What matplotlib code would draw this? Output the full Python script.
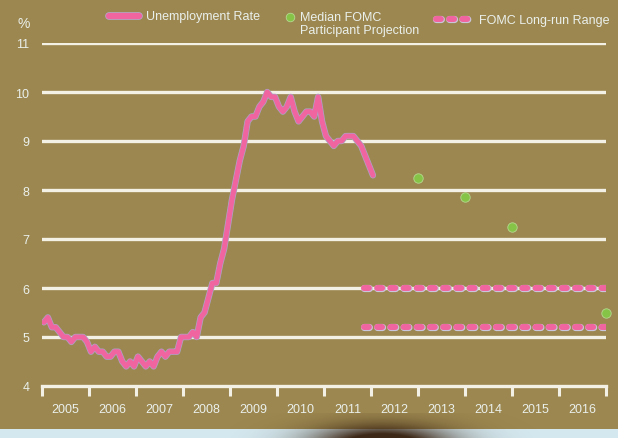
import matplotlib
matplotlib.use("Agg")
import matplotlib.pyplot as plt
import matplotlib.patheffects as pe
from matplotlib.patches import Rectangle
import numpy as np

plt.rcParams['font.family'] = ['Liberation Sans', 'DejaVu Sans']
plt.rcParams['lines.scale_dashes'] = False

# monthly unemployment rate, Jan 2005 .. Jan 2012
rate_2005 = [5.3, 5.4, 5.2, 5.2, 5.1, 5.0, 5.0, 4.9, 5.0, 5.0, 5.0, 4.9]
rate_2006 = [4.7, 4.8, 4.7, 4.7, 4.6, 4.6, 4.7, 4.7, 4.5, 4.4, 4.5, 4.4]
rate_2007 = [4.6, 4.5, 4.4, 4.5, 4.4, 4.6, 4.7, 4.6, 4.7, 4.7, 4.7, 5.0]
rate_2008 = [5.0, 5.0, 5.1, 5.0, 5.4, 5.5, 5.8, 6.1, 6.1, 6.5, 6.8, 7.3]
rate_2009 = [7.8, 8.2, 8.6, 8.9, 9.4, 9.5, 9.5, 9.7, 9.8, 10.0, 9.9, 9.9]
rate_2010 = [9.7, 9.6, 9.7, 9.9, 9.6, 9.4, 9.5, 9.6, 9.6, 9.5, 9.9, 9.4]
rate_2011 = [9.1, 9.0, 8.9, 9.0, 9.0, 9.1, 9.1, 9.1, 9.0, 8.9, 8.7, 8.5]
rate_2012 = [8.3]

# median FOMC projections (Q4 of year) and longer run
proj_x = [2013.0, 2014.0, 2015.0, 2017.0]
proj_y = [8.25, 7.85, 7.25, 5.5]

# longer-run central tendency
range_x = [2011.85, 2017.0]
range_low = 5.2
range_high = 6.0

years = list(range(2005, 2017))
y_ticks = [4, 5, 6, 7, 8, 9, 10, 11]

rate = rate_2005 + rate_2006 + rate_2007 + rate_2008 + rate_2009 + rate_2010 + rate_2011 + rate_2012
months = 2005 + np.arange(len(rate)) / 12 + 1 / 24

BG = '#9c8750'
PINK = '#f064a0'
GREEN = '#86c447'
WHITE = '#f3f1e6'
TXT = '#eaf0ec'
DASH = (3.5, 6.0)

fig = plt.figure(figsize=(6.18, 4.39), dpi=100, facecolor=BG)
ax = fig.add_axes([42 / 618, (439 - 387) / 439, (606 - 42) / 618, (387 - 44) / 439])
ax.set_facecolor(BG)

ax.set_xlim(2005, 2017)
ax.set_ylim(4, 11)

for v in y_ticks[1:]:
    ax.axhline(v, color=WHITE, lw=2.4, zorder=1)

# long-run range
for v in (range_low, range_high):
    ax.plot(range_x, [v, v], color='#c9c6dc', lw=5.2, dashes=DASH,
            dash_capstyle='round', zorder=3)
    ax.plot(range_x, [v, v], color=PINK, lw=4.3, dashes=DASH,
            dash_capstyle='round', zorder=4)

ax.plot(months, rate, color=PINK, lw=3.6, solid_joinstyle='round', solid_capstyle='round',
        zorder=5,
        path_effects=[pe.Stroke(linewidth=4.6, foreground='#a9a6c8', joinstyle='round'),
                      pe.Normal()])

ax.scatter(proj_x, proj_y, s=46, color=GREEN, edgecolors='#b5d890', linewidths=0.6,
           zorder=6, clip_on=False)

for s in ('top', 'right', 'left'):
    ax.spines[s].set_visible(False)
ax.spines['bottom'].set_color(WHITE)
ax.spines['bottom'].set_linewidth(2.4)

ax.set_xticks(range(2005, 2018))
ax.set_xticklabels([])
ax.tick_params(axis='x', which='major', length=7, width=2.2, color=WHITE, direction='out')
ax.set_xticks([y + 0.5 for y in years], minor=True)
ax.set_xticklabels([str(y) for y in years], minor=True)
ax.tick_params(axis='x', which='minor', length=0, pad=12, labelsize=9, labelcolor=TXT)

ax.set_yticks(y_ticks)
ax.set_yticklabels([str(v) for v in y_ticks])
ax.tick_params(axis='y', length=0, pad=9, labelsize=9, labelcolor=TXT)

# overlay in pixel coordinates for legend, unit and photo edge
lax = fig.add_axes([0, 0, 1, 1], facecolor='none')
lax.axis('off')

lax.text(24, 24, '%', color=TXT, fontsize=10, ha='center', va='center')

lax.plot([109, 139], [17, 17], color=PINK, lw=4.5, solid_capstyle='round',
         path_effects=[pe.Stroke(linewidth=5.5, foreground='#b0aed0'), pe.Normal()])
lax.text(146, 17, 'Unemployment Rate', color=TXT, fontsize=9, va='center')

lax.scatter([290], [18], s=38, color=GREEN, edgecolors='#b5d890', linewidths=0.6)
lax.text(300, 18, 'Median FOMC', color=TXT, fontsize=9, va='center')
lax.text(300, 31, 'Participant Projection', color=TXT, fontsize=9, va='center')

lax.plot([436, 468], [20, 20], color='#c9c6dc', lw=5.2, dashes=DASH, dash_capstyle='round')
lax.plot([436, 468], [20, 20], color=PINK, lw=4.3, dashes=DASH, dash_capstyle='round')
lax.text(479, 21, 'FOMC Long-run Range', color=TXT, fontsize=9, va='center')

# light strip below the slide and the soft shadow in front of it
lax.add_patch(Rectangle((0, 430), 618, 12, color='#d4e8ef', lw=0, zorder=1))
gx, gy = np.meshgrid(np.linspace(230, 540, 310), np.linspace(414, 439, 25))
shade = np.exp(-((gx - 382) / 68) ** 2 - ((gy - 446) / 20) ** 2)
rgba = np.zeros(gx.shape + (4,))
rgba[..., 0] = 0.22
rgba[..., 1] = 0.13
rgba[..., 2] = 0.06
rgba[..., 3] = np.clip(shade * 1.3, 0, 0.97)
lax.imshow(rgba, extent=(230, 540, 439, 414), zorder=2, interpolation='bilinear')
lax.set_xlim(0, 618)
lax.set_ylim(439, 0)
lax.set_aspect('auto')

fig.savefig('out.png', dpi=100, facecolor=BG)
